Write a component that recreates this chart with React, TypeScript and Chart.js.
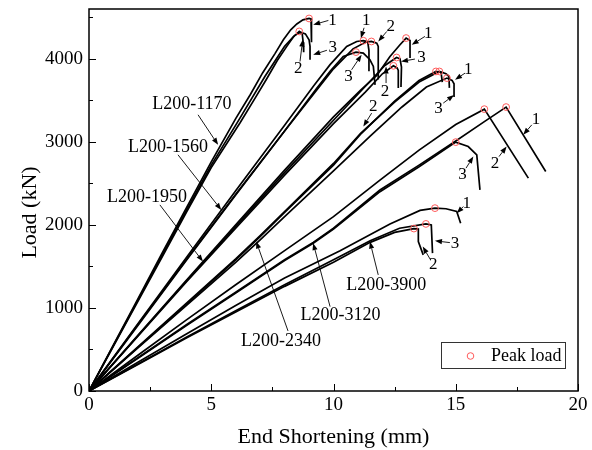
import React, { useEffect, useRef } from "react";
import { Chart, registerables } from "chart.js";

Chart.register(...registerables);

const FONT = "'Liberation Serif', 'Times New Roman', serif";

const xTicks = [0, 5, 10, 15, 20];
const xMinor = [2.5, 7.5, 12.5, 17.5];
const yTicks = [0, 1000, 2000, 3000, 4000];
const yMinor = [500, 1500, 2500, 3500, 4500];
const xTitle = "End Shortening (mm)";
const yTitle = "Load (kN)";

// L200-1170
const L1170_1 = [[0,0],[1,555],[2,1110],[3,1665],[4,2215],[5,2760],[6,3280],[6.6,3570],[7.1,3830],[7.6,4060],[7.95,4230],[8.25,4350],[8.5,4420],[8.75,4470],[9.0,4486],[9.08,4480],[9.1,4200]];
const L1170_2 = [[0,0],[1,540],[2,1080],[3,1620],[4,2160],[5,2690],[6.18,3230],[6.8,3530],[7.27,3760],[7.7,3980],[8.09,4150],[8.35,4260],[8.6,4330],[8.72,4300],[8.76,4200],[8.78,4080]];
const L1170_3 = [[0,0],[1,548],[2,1095],[3,1640],[4,2185],[5,2720],[6.1,3250],[7.2,3790],[8.0,4150],[8.4,4280],[8.65,4320],[8.85,4300],[9.0,4230],[9.04,4150],[9.04,3990]];
// L200-1560
const L1560_1 = [[0,0],[2,810],[4,1615],[6,2410],[8,3200],[9.2,3680],[9.86,3930],[10.54,4149],[10.95,4209],[11.22,4218],[11.4,4205],[11.45,4100],[11.45,3850]];
const L1560_2 = [[0,0],[2,790],[4,1580],[6,2360],[8,3130],[9.3,3620],[10,3880],[10.8,4120],[11.3,4200],[11.55,4209],[11.77,4189],[11.83,4150],[11.83,3750]];
const L1560_3 = [[0,0],[2,800],[4,1590],[6,2370],[8,3130],[9.3,3640],[9.86,3850],[10.4,4028],[10.92,4081],[11.22,4069],[11.49,3989],[11.63,3908],[11.7,3687]];
// L200-1950
const L1950_1 = [[0,0],[2,670],[4,1340],[6,2000],[8,2660],[10,3300],[11.1,3620],[11.77,3800],[12.31,4028],[12.72,4169],[12.97,4250],[13.13,4220],[13.13,4009]];
const L1950_2 = [[0,0],[2,660],[4,1320],[6,1960],[8,2600],[10,3220],[11.3,3600],[12,3820],[12.45,3916],[12.6,3890],[12.65,3860],[12.65,3650]];
const L1950_3 = [[0,0],[2,665],[4,1330],[6,1980],[8,2630],[10,3260],[11.4,3700],[12.1,3920],[12.58,4016],[12.72,4000],[12.78,3900],[12.76,3660]];
// L200-2340
const L2340_1 = [[0,0],[2,530],[4,1060],[6,1590],[7,1870],[8,2160],[10,2740],[11.1,3100],[12.5,3480],[13.5,3720],[14.33,3848],[14.6,3820],[14.72,3790],[14.74,3650]];
const L2340_2 = [[0,0],[2,525],[4,1050],[6,1580],[7,1860],[8,2150],[10,2720],[11.1,3090],[12.5,3490],[13.5,3740],[14.19,3848],[14.4,3835],[14.45,3720]];
const L2340_3 = [[0,0],[2,520],[4,1035],[6,1550],[7,1820],[8,2100],[10,2650],[11.5,3070],[12.8,3420],[13.8,3660],[14.64,3768],[14.85,3740],[14.93,3700],[14.93,3540]];
// L200-3120
const L3120_1 = [[0,0],[2,400],[4,800],[6,1190],[8,1580],[9.17,1790],[10,1960],[11.9,2420],[13.5,2720],[15,3010],[16.2,3250],[17.06,3419],[18.68,2643]];
const L3120_2 = [[0,0],[2,430],[4,860],[6,1280],[8,1690],[10,2100],[11.9,2540],[13.5,2900],[15,3210],[16.17,3394],[17.97,2563]];
const L3120_3 = [[0,0],[2,395],[4,790],[6,1180],[8,1570],[9.17,1780],[10,1950],[11.9,2400],[13.5,2700],[15.0,2997],[15.51,2944],[15.86,2844],[15.99,2422]];
// L200-3900
const L3900_1 = [[0,0],[2,345],[4,690],[6,1030],[8,1360],[10.27,1690],[12.31,2010],[13.54,2175],[14.15,2202],[14.6,2195],[15.04,2161],[15.2,2021]];
const L3900_2 = [[0,0],[2,320],[4,640],[6,950],[8,1260],[10,1550],[11.5,1790],[12.5,1910],[13.29,1956],[13.47,1950],[13.47,1800],[13.67,1639]];
const L3900_3 = [[0,0],[2,325],[4,650],[6,965],[8,1280],[10,1580],[11.5,1810],[12.7,1960],[13.78,2012],[14.0,2000],[14.05,1660]];

const curves = [
  L1170_1, L1170_2, L1170_3,
  L1560_1, L1560_2, L1560_3,
  L1950_1, L1950_2, L1950_3,
  L2340_1, L2340_2, L2340_3,
  L3120_1, L3120_2, L3120_3,
  L3900_1, L3900_2, L3900_3,
];

const peakX = [9.0, 8.6, 11.22, 11.55, 10.92, 12.97, 12.45, 12.58, 14.33, 14.19, 14.64, 17.06, 16.17, 15.0, 14.15, 13.29, 13.78];
const peakY = [4486, 4330, 4218, 4209, 4081, 4250, 3916, 4016, 3848, 3848, 3768, 3419, 3394, 2997, 2202, 1956, 2012];

// group labels: text, label centre, arrow tail, arrow head (data units)
const groupNames = ["L200-1170", "L200-1560", "L200-1950", "L200-2340", "L200-3120", "L200-3900"];
const groupPos = [[4.21, 3458], [3.23, 2940], [2.37, 2338], [7.85, 603], [10.29, 916], [12.16, 1277]];
const groupTail = [[4.46, 3326], [3.64, 2844], [2.90, 2241], [8.14, 723], [9.86, 1016], [11.83, 1398]];
const groupHead = [[5.28, 2964], [5.41, 2181], [4.66, 1558], [6.84, 1799], [9.17, 1780], [11.49, 1799]];

// specimen numbers
const numText = ["1","3","2", "1","2","3", "1","3","2", "1","3","2", "1","2","3", "1","3","2"];
const numPos = [[9.96,4462],[9.97,4130],[8.56,3889],[11.34,4459],[12.34,4390],[10.61,3787],[13.88,4302],[13.6,4021],[12.11,3607],[15.51,3868],[14.29,3407],[11.63,3426],[18.28,3266],[16.61,2744],[15.28,2603],[15.45,2253],[14.97,1771],[14.08,1518]];
const numTail = [[9.79,4462],[9.73,4103],[8.63,3968],[11.25,4374],[12.18,4330],[10.74,3868],[13.74,4270],[13.33,3997],[12.15,3708],[15.38,3828],[14.49,3467],[11.56,3346],[18.11,3205],[16.77,2823],[15.42,2684],[15.31,2221],[14.76,1787],[13.97,1579]];
const numHead = [[9.17,4410],[9.17,4049],[8.74,4230],[11.12,4248],[11.83,4209],[11.15,4049],[13.2,4169],[12.76,3968],[12.15,3908],[14.97,3748],[14.93,3563],[11.22,3185],[17.76,3085],[17.08,2944],[15.72,2823],[15.04,2141],[14.15,1808],[13.65,1739]];

const legendText = "Peak load";

function arrow(ctx: CanvasRenderingContext2D, x1: number, y1: number, x2: number, y2: number) {
  const ang = Math.atan2(y2 - y1, x2 - x1);
  const L = 7, W = 2.6;
  const bx = x2 - L * Math.cos(ang), by = y2 - L * Math.sin(ang);
  ctx.beginPath();
  ctx.moveTo(x1, y1);
  ctx.lineTo(bx, by);
  ctx.lineWidth = 0.9;
  ctx.stroke();
  ctx.beginPath();
  ctx.moveTo(x2, y2);
  ctx.lineTo(bx + W * Math.sin(ang), by - W * Math.cos(ang));
  ctx.lineTo(bx - W * Math.sin(ang), by + W * Math.cos(ang));
  ctx.closePath();
  ctx.fill();
}

const annotPlugin = {
  id: "annot",
  afterDatasetsDraw(chart: any) {
    const { ctx, chartArea: ca, scales } = chart;
    const xs = scales.x, ys = scales.y;
    const X = (v: number) => xs.getPixelForValue(v);
    const Y = (v: number) => ys.getPixelForValue(v);
    ctx.save();
    ctx.strokeStyle = "#000";
    ctx.fillStyle = "#000";
    // inward ticks
    ctx.lineWidth = 1;
    ctx.beginPath();
    xTicks.forEach((v) => { const p = Math.round(X(v)) + 0.5; ctx.moveTo(p, ca.bottom); ctx.lineTo(p, ca.bottom - 7); });
    xMinor.forEach((v) => { const p = Math.round(X(v)) + 0.5; ctx.moveTo(p, ca.bottom); ctx.lineTo(p, ca.bottom - 4); });
    yTicks.forEach((v) => { const p = Math.round(Y(v)) + 0.5; ctx.moveTo(ca.left, p); ctx.lineTo(ca.left + 7, p); });
    yMinor.forEach((v) => { const p = Math.round(Y(v)) + 0.5; ctx.moveTo(ca.left, p); ctx.lineTo(ca.left + 4, p); });
    ctx.stroke();
    // frame
    ctx.lineWidth = 1.5;
    ctx.strokeRect(ca.left, ca.top, ca.right - ca.left, ca.bottom - ca.top);

    // y title
    ctx.save();
    ctx.translate(ca.left - 59, Y(2150));
    ctx.rotate(-Math.PI / 2);
    ctx.font = `22px ${FONT}`;
    ctx.textAlign = "center";
    ctx.textBaseline = "middle";
    ctx.fillText(yTitle, 0, 0);
    ctx.restore();

    // group labels
    ctx.font = `18px ${FONT}`;
    ctx.textAlign = "center";
    ctx.textBaseline = "middle";
    groupNames.forEach((t, i) => {
      ctx.fillText(t, X(groupPos[i][0]), Y(groupPos[i][1]));
      arrow(ctx, X(groupTail[i][0]), Y(groupTail[i][1]), X(groupHead[i][0]), Y(groupHead[i][1]));
    });
    // specimen numbers
    ctx.font = `17px ${FONT}`;
    numText.forEach((t, i) => {
      ctx.fillText(t, X(numPos[i][0]), Y(numPos[i][1]));
      arrow(ctx, X(numTail[i][0]), Y(numTail[i][1]), X(numHead[i][0]), Y(numHead[i][1]));
    });

    // legend box
    const bw = 124, bh = 26;
    const bl = ca.right - 137, bt = ca.bottom - 49;
    ctx.lineWidth = 1;
    ctx.strokeStyle = "#333";
    ctx.strokeRect(bl + 0.5, bt + 0.5, bw, bh);
    ctx.beginPath();
    ctx.strokeStyle = "#ff5a5a";
    ctx.arc(bl + 29.5, bt + 14, 3.3, 0, Math.PI * 2);
    ctx.stroke();
    ctx.fillStyle = "#000";
    ctx.textAlign = "left";
    ctx.font = `18px ${FONT}`;
    ctx.fillText(legendText, bl + 50, bt + 14);
    ctx.restore();
  },
};

export default function App() {
  const ref = useRef<HTMLCanvasElement>(null);
  useEffect(() => {
    document.body.style.margin = "0";
    const canvas = ref.current!;
    const datasets: any[] = [
      {
        label: "Peak load",
        data: peakX.map((x, i) => ({ x, y: peakY[i] })),
        showLine: false,
        pointStyle: "circle",
        pointRadius: 3.4,
        pointBorderWidth: 1,
        pointBorderColor: "#ff5a5a",
        pointBackgroundColor: "rgba(255,255,255,0)",
      },
      ...curves.map((c) => ({
        label: "",
        data: c.map(([x, y]) => ({ x, y })),
        showLine: true,
        borderColor: "#000",
        borderWidth: 1.7,
        pointRadius: 0,
        tension: 0,
        fill: false,
      })),
    ];
    const chart = new Chart(canvas, {
      type: "scatter",
      data: { datasets },
      options: {
        animation: false,
        responsive: false,
        maintainAspectRatio: false,
        layout: { padding: { left: 0, right: 14, top: 9, bottom: 0 } },
        plugins: { legend: { display: false }, tooltip: { enabled: false } },
        scales: {
          x: {
            type: "linear",
            min: 0,
            max: 20,
            grid: { display: false, drawTicks: false },
            border: { display: false },
            afterBuildTicks: (s: any) => { s.ticks = xTicks.map((v) => ({ value: v })); },
            ticks: { color: "#000", font: { family: FONT, size: 19 }, padding: 3, maxRotation: 0, autoSkip: false, callback: (v: any) => String(v) },
            title: { display: true, text: xTitle, color: "#000", font: { family: FONT, size: 22 }, padding: { top: 0, bottom: 0 } },
            afterFit: (s: any) => { s.height = 59; s.paddingLeft = 0; s.paddingRight = 0; },
          },
          y: {
            type: "linear",
            min: 0,
            max: 4600,
            grid: { display: false, drawTicks: false },
            border: { display: false },
            afterBuildTicks: (s: any) => { s.ticks = yTicks.map((v) => ({ value: v })); },
            ticks: { color: "#000", font: { family: FONT, size: 19 }, padding: 6, autoSkip: false, callback: (v: any) => String(v) },
            title: { display: false },
            afterFit: (s: any) => { s.width = 89; s.paddingTop = 0; s.paddingBottom = 0; },
          },
        },
      },
      plugins: [annotPlugin],
    } as any);
    return () => chart.destroy();
  }, []);
  return (
    <div style={{ width: 592, height: 450, background: "#fff" }}>
      <canvas ref={ref} width={592} height={450} style={{ display: "block" }} />
    </div>
  );
}
